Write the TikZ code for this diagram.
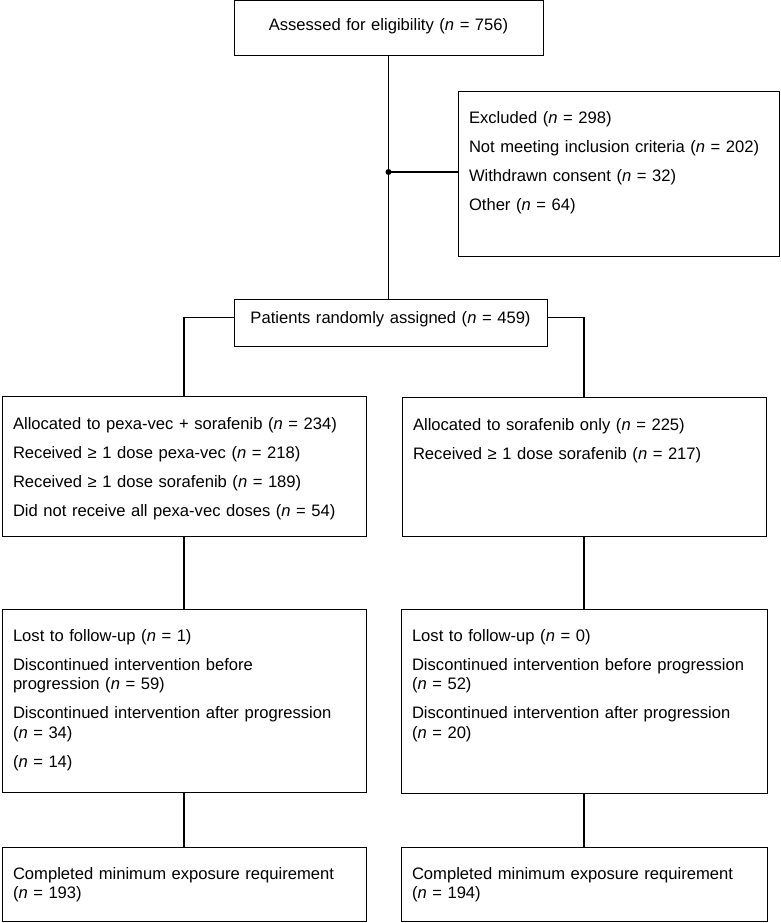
\documentclass[tikz,border=0pt]{standalone}
\usepackage{fontspec}
\setmainfont{Liberation Sans}
\newcommand{\nn}[1]{(\textit{n} = #1)}

\begin{document}
\begin{tikzpicture}[x=1pt, y=-1pt,
    panel/.style={draw, line width=1pt, outer sep=0pt, anchor=north west, align=left,
        inner xsep=11pt, inner ysep=0pt, text height=32pt,
        font=\fontsize{16.6}{19.5}\selectfont},
    link/.style={line width=1.4pt}]
\useasboundingbox (0,0) rectangle (781,923);

% Screening
\node[panel, align=center, text width=287pt, text height=30pt, text depth=25pt] (elig) at (234,1)
    {Assessed for eligibility \nn{756}};
\node[panel, text width=299pt, text depth=132pt] (excl) at (458,92)
    {Excluded \nn{298}\\[9.5pt]
     Not meeting inclusion criteria \nn{202}\\[9.5pt]
     Withdrawn consent \nn{32}\\[9.5pt]
     Other \nn{64}};
\node[panel, align=center, text width=291pt, text height=24pt, text depth=23pt] (rand) at (234,299)
    {Patients randomly assigned \nn{459}};

% Allocation
\node[panel, text width=342pt, text height=33pt, text depth=107pt] (allocA) at (2,396)
    {Allocated to pexa-vec + sorafenib \nn{234}\\[9.5pt]
     Received ≥ 1 dose pexa-vec \nn{218}\\[9.5pt]
     Received ≥ 1 dose sorafenib \nn{189}\\[9.5pt]
     Did not receive all pexa-vec doses \nn{54}};
\node[panel, text width=342pt, text height=33pt, text depth=106pt] (allocB) at (402,397)
    {Allocated to sorafenib only \nn{225}\\[9.5pt]
     Received ≥ 1 dose sorafenib \nn{217}};

% Follow-up
\node[panel, text width=342pt, text depth=151pt] (lossA) at (2,609)
    {Lost to follow-up \nn{1}\\[9.5pt]
     Discontinued intervention before\\progression \nn{59}\\[9.5pt]
     Discontinued intervention after progression\\\nn{34}\\[9.5pt]
     \nn{14}};
\node[panel, text width=344pt, text depth=152pt] (lossB) at (401,609)
    {Lost to follow-up \nn{0}\\[9.5pt]
     Discontinued intervention before progression\\\nn{52}\\[9.5pt]
     Discontinued intervention after progression\\\nn{20}};

% Analysis
\node[panel, text width=342pt, text depth=42pt] (doneA) at (2,847)
    {Completed minimum exposure requirement\\\nn{193}};
\node[panel, text width=344pt, text depth=42pt] (doneB) at (401,847)
    {Completed minimum exposure requirement\\\nn{194}};

% Connectors
\coordinate (split) at (elig.south |- 0,172);
\draw[link] (elig.south) -- (elig.south |- rand.north);
\draw[link] (split) -- (split -| excl.west);
\fill (split) circle (3pt);
\draw[link] ([yshift=5pt]rand.west) -| (allocA.north);
\draw[link] ([yshift=5pt]rand.east) -| (allocB.north);
\draw[link] (allocA.south) -- (lossA.north);
\draw[link] (allocB.south) -- (allocB.south |- lossB.north);
\draw[link] (lossA.south) -- (doneA.north);
\draw[link] (lossB.south) -- (doneB.north);

\end{tikzpicture}
\end{document}
